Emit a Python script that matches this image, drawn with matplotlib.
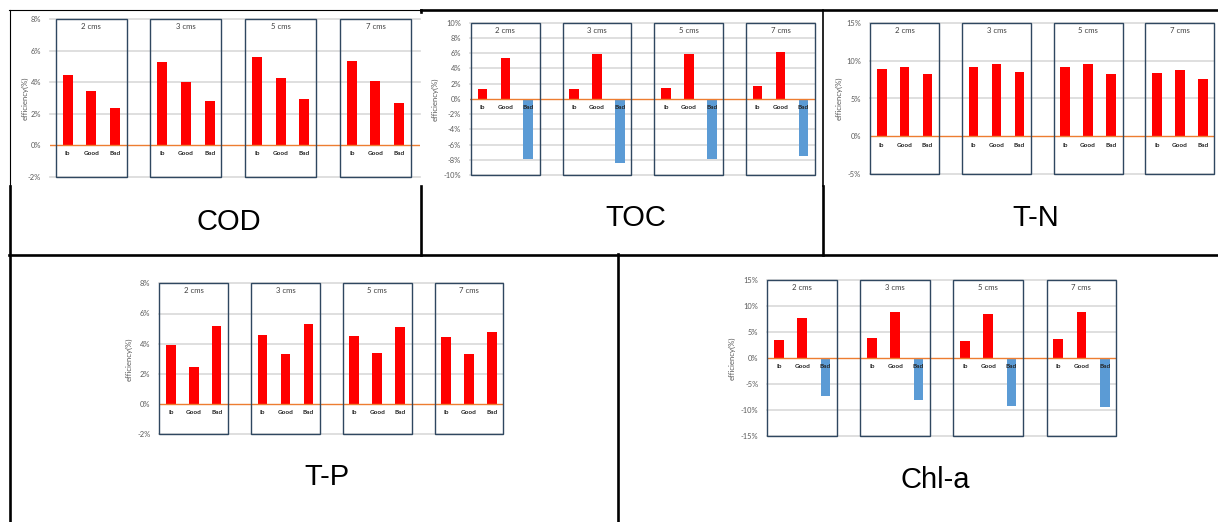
import matplotlib
matplotlib.use("Agg")
import matplotlib.pyplot as plt
from matplotlib.patches import Rectangle

W, H = 1218, 522

groups = ["2 cms", "3 cms", "5 cms", "7 cms"]
cats = ["Ib", "Good", "Bad"]

# values in %
cod_ib = [4.43, 5.26, 5.58, 5.37]
cod_good = [3.46, 4.01, 4.24, 4.05]
cod_bad = [2.38, 2.78, 2.95, 2.69]

toc_ib = [1.27, 1.31, 1.44, 1.75]
toc_good = [5.34, 5.86, 5.86, 6.17]
toc_bad = [-7.88, -8.40, -7.88, -7.57]

tn_ib = [8.84, 9.15, 9.15, 8.40]
tn_good = [9.15, 9.50, 9.50, 8.75]
tn_bad = [8.22, 8.49, 8.22, 7.52]

tp_ib = [3.90, 4.58, 4.54, 4.47]
tp_good = [2.47, 3.31, 3.37, 3.35]
tp_bad = [5.20, 5.31, 5.09, 4.80]

chl_ib = [3.45, 3.96, 3.26, 3.58]
chl_good = [7.80, 8.89, 8.44, 8.89]
chl_bad = [-7.35, -8.12, -9.27, -9.46]

RED = "#ff0000"
BLUE = "#5b9bd5"
GRID = "#d9d9d9"
ZERO = "#ed7d31"
BOX = "#2f4760"
TXT = "#595959"
SMALL = "Lato"


def px_axes(fig, left, top, right, bottom):
    return fig.add_axes([left / W, 1 - bottom / H, (right - left) / W, (bottom - top) / H])


def draw_panel(fig, box, xlim, ib, good, bad, yticks, ylab_x, title, title_xy):
    ax = px_axes(fig, *box)
    ax.set_facecolor("none")
    ymin, ymax = yticks[0], yticks[-1]

    xs, vals = [], []
    for g in range(len(groups)):
        for i, v in enumerate((ib[g], good[g], bad[g])):
            xs.append(g * 4 + i)
            vals.append(v)
    colors = [RED if v >= 0 else BLUE for v in vals]
    ax.bar(xs, vals, width=0.42, color=colors, zorder=2)

    for t in yticks:
        if t != 0:
            ax.axhline(t, color=GRID, lw=1.2, zorder=0, clip_on=False)
    ax.axhline(0, color=ZERO, lw=1.0, zorder=3)

    for g, name in enumerate(groups):
        ax.add_patch(Rectangle((g * 4 - 0.5, ymin), 3, ymax - ymin, fill=False,
                               ec=BOX, lw=1.0, zorder=4, clip_on=False))
        ax.annotate(name, (g * 4 + 1, ymax), xytext=(0, -5.3), textcoords="offset points",
                    ha="center", va="center", fontsize=5.6, color="#404040", family=SMALL)
        for i, c in enumerate(cats):
            ax.annotate(c, (g * 4 + i, 0), xytext=(0, -6.3), textcoords="offset points",
                        ha="center", va="center", fontsize=4.6, fontweight="bold",
                        color="#262626", family=SMALL, zorder=5)

    ax.set_xlim(*xlim)
    ax.set_ylim(ymin, ymax)
    ax.set_xticks([])
    ax.set_yticks(yticks)
    ax.set_yticklabels([f"{t}%" for t in yticks], fontsize=5.4, color=TXT, family=SMALL)
    ax.tick_params(axis="y", length=0, pad=6.3)
    for s in ax.spines.values():
        s.set_visible(False)

    yc = (box[1] + box[3]) / 2
    fig.text(ylab_x / W, 1 - yc / H, "efficiency(%)", rotation=90, ha="center", va="center",
             fontsize=5.6, color=TXT, family=SMALL)
    fig.text(title_xy[0] / W, 1 - title_xy[1] / H, title, ha="center", va="center",
             fontsize=21, color="black", family="Liberation Sans")
    return ax


fig = plt.figure(figsize=(W / 100, H / 100), dpi=100)

# table lines
frame = fig.add_axes([0, 0, 1, 1])
frame.set_xlim(0, W)
frame.set_ylim(H, 0)
frame.axis("off")
thin, thick = 0.8, 1.9
frame.plot([9, 421], [10, 10], color="black", lw=thin)
frame.plot([421, 1218], [10, 10], color="black", lw=thick)
frame.plot([9.5, 9.5], [10, 186], color="black", lw=thin)
frame.plot([10, 10], [186, 522], color="black", lw=thick)
frame.plot([9, 1218], [254.5, 254.5], color="black", lw=thick)
frame.plot([421, 421], [10, 12], color="black", lw=thick)
frame.plot([421, 421], [186, 255], color="black", lw=thick)
frame.plot([822.5, 822.5], [10, 186], color="black", lw=1.2)
frame.plot([822.5, 822.5], [186, 255], color="black", lw=thick)
frame.plot([618, 618], [254, 522], color="black", lw=thick)

draw_panel(fig, (50, 19.3, 420, 176.7), (-0.74, 14.88), cod_ib, cod_good, cod_bad,
           [-2, 0, 2, 4, 6, 8], 25, "COD", (228.7, 221.7))
draw_panel(fig, (470, 22.7, 815, 175), (-0.54, 14.5), toc_ib, toc_good, toc_bad,
           [-10, -8, -6, -4, -2, 0, 2, 4, 6, 8, 10], 435, "TOC", (635.7, 218.3))
draw_panel(fig, (870, 22.7, 1214.3, 174.3), (-0.51, 14.5), tn_ib, tn_good, tn_bad,
           [-5, 0, 5, 10, 15], 839, "T-N", (1035.7, 218.3))
draw_panel(fig, (159.3, 283.3, 503.4, 434.3), (-0.5, 14.5), tp_ib, tp_good, tp_bad,
           [-2, 0, 2, 4, 6, 8], 129, "T-P", (327, 476.7))
draw_panel(fig, (767.3, 280, 1116.3, 436.3), (-0.5, 14.5), chl_ib, chl_good, chl_bad,
           [-15, -10, -5, 0, 5, 10, 15], 732, "Chl-a", (935, 480))

fig.savefig("out.png", dpi=100)
